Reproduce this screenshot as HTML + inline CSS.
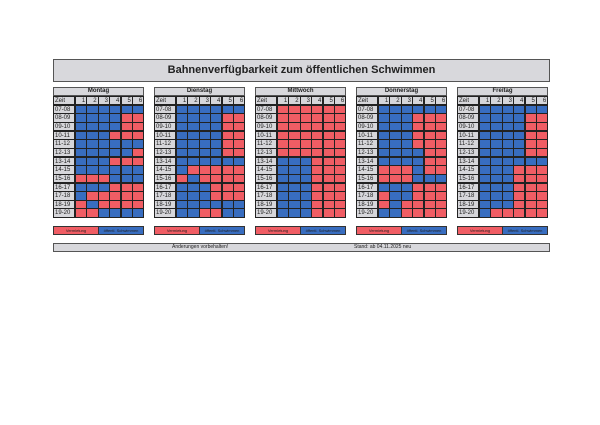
<!DOCTYPE html>
<html><head><meta charset="utf-8">
<style>
body{margin:0;width:600px;height:425px;background:#fff;position:relative;overflow:hidden;font-family:"Liberation Sans",sans-serif}
.box{position:absolute;background:#d8d8dc;border:1px solid #555;box-sizing:border-box;text-align:center;color:#222}
.t{position:absolute;box-sizing:border-box;border:0.8px solid #222}
.z{background:#d6d6da;font-size:6px;color:#222;line-height:8px;padding-left:1px}
.h{background:#d6d6da;font-size:6px;color:#222;line-height:8px;text-align:right;padding-right:1px}
.R{background:#f05d64}.B{background:#386dc0}
.lg{position:absolute;font-size:4px;line-height:8px;text-align:center;color:#222;box-sizing:border-box;border:0.8px solid #333}
</style></head><body>
<div class="box" style="left:53px;top:59px;width:497px;height:23px;font-weight:bold;font-size:11px;line-height:21px">Bahnenverfügbarkeit zum öffentlichen Schwimmen</div>
<div class="box" style="left:53px;top:243px;width:497px;height:9px;font-size:5px;line-height:7px;text-align:left"><span style="position:absolute;left:118px">Änderungen vorbehalten!</span><span style="position:absolute;left:300px">Stand: ab 04.11.2025 neu</span></div>
<div id="c"></div>
<script>
var days=[["Montag",["BBBBBB","BBBBRR","BBBBRR","BBBRRR","BBBBBB","BBBBBR","BBBRRR","BBBBBB","RRRBBB","BBBRRR","BRRRRR","RBRRRR","RRBBBB"]],
["Dienstag",["BBBBBB","BBBBRR","BBBBRR","BBBBRR","BBBBRR","BBBBRR","BBBBBB","BRRRRR","RBRRRR","BBBRRR","BBBRRR","BBBBBB","BBRRBB"]],
["Mittwoch",["RRRRRR","RRRRRR","RRRRRR","RRRRRR","RRRRRR","RRRRRR","BBBRRR","BBBRRR","BBBRRR","BBBRRR","BBBRRR","BBBRRR","BBBRRR"]],
["Donnerstag",["BBBBBB","BBBRRR","BBBRRR","BBBRRR","BBBRRR","BBBBRR","BBBBRR","RRRBRR","RRRBBB","BBBRRR","RBBRRR","RBRRRR","BBRRRR"]],
["Freitag",["BBBBBB","BBBBRR","BBBBRR","BBBBRR","BBBBRR","BBBBRR","BBBBBB","BBBRRR","BBBRRR","BBBRRR","BBBRRR","BBBRRR","BRRRRR"]]];
var times=["07-08","08-09","09-10","10-11","11-12","12-13","13-14","14-15","15-16","16-17","17-18","18-19","19-20"];
var c=document.getElementById("c"),h="";
var X=[53,154,255,356,457],zw=22,cw=11.4,rh=8.65,top0=96;
days.forEach(function(d,i){var x=X[i];
h+='<div class="box" style="left:'+x+'px;top:87px;width:91px;height:9px;font-size:6px;font-weight:bold;line-height:7px">'+d[0]+'</div>';
for(var r=0;r<14;r++){var y=top0+r*rh;
h+='<div class="t z" style="left:'+x+'px;top:'+y+'px;width:'+zw+'px;height:'+(rh+0.8)+'px">'+(r==0?'Zeit':times[r-1])+'</div>';
for(var k=0;k<6;k++){var cx=x+zw+k*cw;
if(r==0)h+='<div class="t h" style="left:'+cx+'px;top:'+y+'px;width:'+(cw+0.8)+'px;height:'+(rh+0.8)+'px">'+(k+1)+'</div>';
else h+='<div class="t '+d[1][r-1][k]+'" style="left:'+cx+'px;top:'+y+'px;width:'+(cw+0.8)+'px;height:'+(rh+0.8)+'px"></div>';}}
h+='<div class="lg R" style="left:'+x+'px;top:226px;width:46px;height:9px">Vermietung</div>';
h+='<div class="lg B" style="left:'+(x+45)+'px;top:226px;width:46px;height:9px">öffentl. Schwimmen</div>';
});
c.innerHTML=h;
</script>
</body></html>
